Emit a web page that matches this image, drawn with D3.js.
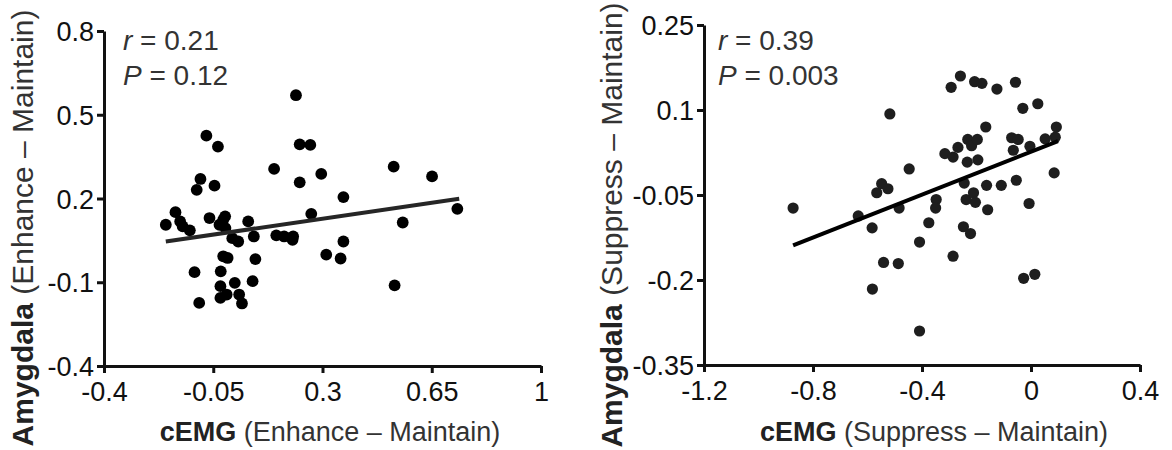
<!DOCTYPE html>
<html>
<head>
<meta charset="utf-8">
<script src="https://cdn.jsdelivr.net/npm/d3@7/dist/d3.min.js"></script>
<style>
  html, body { margin: 0; padding: 0; background: #fff; }
  svg { display: block; font-family: "Liberation Sans", Arial, sans-serif; }
</style>
</head>
<body>
<svg id="chart" width="1172" height="450"></svg>
<script>
// ---- Left panel data (Enhance – Maintain) ----
const enhanceX = [-0.202,-0.171,-0.156,-0.148,-0.125,-0.110,-0.103,-0.091,-0.095,-0.072,-0.062,-0.046,-0.035,-0.030,-0.026,-0.027,-0.027,-0.012,-0.018,-0.011,-0.018,-0.004,-0.007,0.011,0.019,0.030,0.033,0.042,0.062,0.080,0.085,0.076,0.145,0.152,0.177,0.206,0.204,0.215,0.227,0.227,0.261,0.264,0.296,0.312,0.358,0.367,0.367,0.528,0.531,0.557,0.651,0.732];
const enhanceY = [0.106,0.151,0.118,0.100,0.086,-0.064,0.231,0.270,-0.174,0.425,0.130,0.246,0.386,0.106,-0.061,-0.114,-0.156,0.136,0.124,0.094,-0.007,-0.013,-0.144,0.058,-0.102,0.046,-0.144,-0.176,0.118,0.064,-0.017,-0.096,0.306,0.068,0.064,0.064,0.052,0.570,0.394,0.258,0.392,0.145,0.288,-0.001,-0.015,0.205,0.046,0.314,-0.111,0.114,0.279,0.163];
const enhanceFitX = [-0.202, 0.738];
const enhanceFitY = [0.046, 0.199];
const enhanceXTicks = [-0.4, -0.05, 0.3, 0.65, 1];
const enhanceYTicks = [-0.4, -0.1, 0.2, 0.5, 0.8];

// ---- Right panel data (Suppress – Maintain) ----
const suppressX = [-0.873,-0.634,-0.583,-0.582,-0.566,-0.548,-0.541,-0.525,-0.518,-0.487,-0.484,-0.447,-0.409,-0.409,-0.375,-0.348,-0.350,-0.316,-0.293,-0.286,-0.286,-0.268,-0.259,-0.248,-0.222,-0.245,-0.238,-0.234,-0.232,-0.218,-0.211,-0.207,-0.204,-0.197,-0.195,-0.180,-0.166,-0.163,-0.159,-0.125,-0.109,-0.071,-0.065,-0.054,-0.057,-0.047,-0.030,-0.027,-0.004,-0.007,0.014,0.025,0.052,0.085,0.089,0.093];
const suppressY = [-0.073,-0.087,-0.108,-0.216,-0.046,-0.030,-0.169,-0.039,0.093,-0.171,-0.073,-0.004,-0.133,-0.290,-0.099,-0.058,-0.073,0.023,0.140,-0.158,0.017,0.034,0.160,-0.106,-0.118,-0.029,-0.058,0.008,0.048,0.037,-0.046,0.150,-0.063,0.048,0.012,0.147,0.070,-0.033,-0.076,0.137,-0.033,0.051,0.029,-0.024,0.149,0.048,0.103,-0.197,0.036,-0.065,-0.190,0.111,0.049,-0.011,0.052,0.070];
const suppressFitX = [-0.873, 0.099];
const suppressFitY = [-0.139, 0.045];
const suppressXTicks = [-1.2, -0.8, -0.4, 0, 0.4];
const suppressYTicks = [-0.35, -0.2, -0.05, 0.1, 0.25];

const panels = [
  {
    xs: enhanceX, ys: enhanceY, fitX: enhanceFitX, fitY: enhanceFitY,
    xTicks: enhanceXTicks, yTicks: enhanceYTicks,
    xDomain: [-0.4, 1], yDomain: [-0.4, 0.8],
    xRange: [104, 541], yRange: [366, 31],
    r: "0.21", p: "0.12", cond: "Enhance",
    dot: "#000", dotR: 5.9, line: "#262626",
    annX: 123, xTitleX: 330, yTitleX: 33, yTitleY: 228
  },
  {
    xs: suppressX, ys: suppressY, fitX: suppressFitX, fitY: suppressFitY,
    xTicks: suppressXTicks, yTicks: suppressYTicks,
    xDomain: [-1.2, 0.4], yDomain: [-0.35, 0.25],
    xRange: [704, 1140], yRange: [365, 25],
    r: "0.39", p: "0.003", cond: "Suppress",
    dot: "#1e1e1e", dotR: 5.6, line: "#000",
    annX: 718, xTitleX: 934, yTitleX: 622, yTitleY: 225
  }
];

const svg = d3.select("#chart");
const fmt = d => String(d);

panels.forEach(pn => {
  const x = d3.scaleLinear().domain(pn.xDomain).range(pn.xRange);
  const y = d3.scaleLinear().domain(pn.yDomain).range(pn.yRange);
  const g = svg.append("g");

  // axes
  const xAxis = d3.axisBottom(x).tickValues(pn.xTicks).tickFormat(fmt).tickSize(7).tickPadding(9).tickSizeOuter(0);
  const yAxis = d3.axisLeft(y).tickValues(pn.yTicks).tickFormat(fmt).tickSize(7).tickPadding(3).tickSizeOuter(0);
  const gx = g.append("g").attr("transform", `translate(0,${pn.yRange[0]})`).call(xAxis);
  const gy = g.append("g").attr("transform", `translate(${pn.xRange[0]},0)`).call(yAxis);
  [gx, gy].forEach(a => {
    a.select(".domain").attr("stroke", "#111").attr("stroke-width", 3);
    a.selectAll(".tick line").attr("stroke", "#111").attr("stroke-width", 3);
    a.selectAll(".tick text").attr("fill", "#111").style("font-size", "27px")
      .style("font-family", "'Liberation Sans', Arial, sans-serif");
  });
  gy.selectAll(".tick text").attr("dy", "0.36em");

  // points
  const pts = pn.xs.map((v, i) => [v, pn.ys[i]]);
  g.append("g").selectAll("circle").data(pts).join("circle")
    .attr("cx", d => x(d[0])).attr("cy", d => y(d[1]))
    .attr("r", pn.dotR).attr("fill", pn.dot);

  // regression line
  g.append("line")
    .attr("x1", x(pn.fitX[0])).attr("y1", y(pn.fitY[0]))
    .attr("x2", x(pn.fitX[1])).attr("y2", y(pn.fitY[1]))
    .attr("stroke", pn.line).attr("stroke-width", 4);

  // annotations
  const t1 = g.append("text").attr("x", pn.annX).attr("y", 50).attr("fill", "#333").style("font-size", "28px");
  t1.append("tspan").attr("font-style", "italic").text("r");
  t1.append("tspan").text(" = " + pn.r);
  const t2 = g.append("text").attr("x", pn.annX).attr("y", 85).attr("fill", "#333").style("font-size", "28px");
  t2.append("tspan").attr("font-style", "italic").text("P");
  t2.append("tspan").text(" = " + pn.p);

  // x title
  const xt = g.append("text").attr("x", pn.xTitleX).attr("y", 441).attr("text-anchor", "middle")
    .attr("fill", "#333").style("font-size", "27px");
  xt.append("tspan").attr("font-weight", "bold").attr("fill", "#222").text("cEMG");
  xt.append("tspan").text(" (" + pn.cond + " \u2013 Maintain)");

  // y title
  const yt = g.append("text").attr("transform", `translate(${pn.yTitleX},${pn.yTitleY}) rotate(-90)`)
    .attr("text-anchor", "middle").attr("fill", "#333").style("font-size", "30px");
  yt.append("tspan").attr("font-weight", "bold").attr("fill", "#222").text("Amygdala");
  yt.append("tspan").text(" (" + pn.cond + " \u2013 Maintain)");
});
</script>
</body>
</html>
